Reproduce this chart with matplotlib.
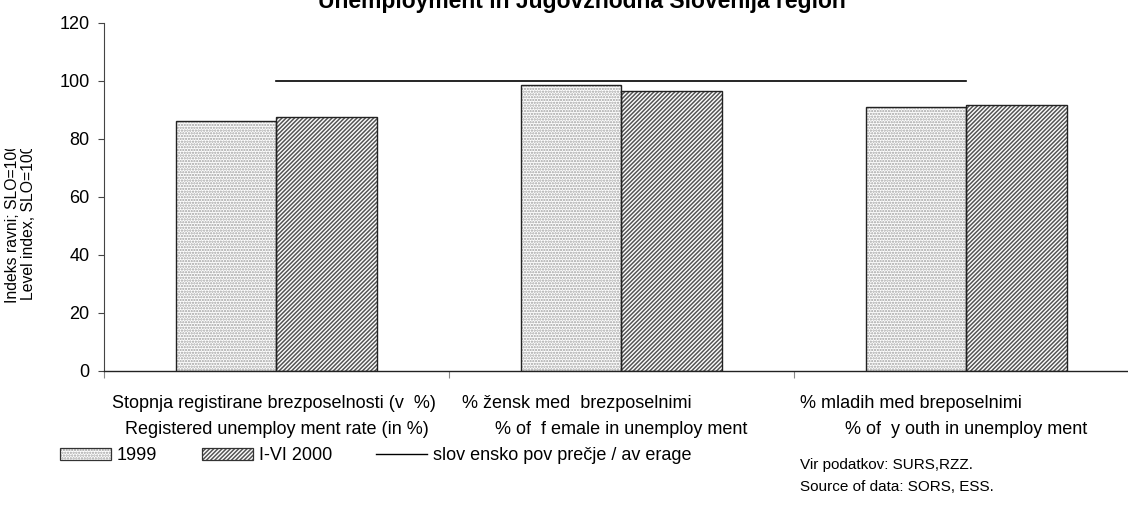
import matplotlib.pyplot as plt
import numpy as np
from matplotlib.patches import Patch
from matplotlib.lines import Line2D
from matplotlib.transforms import Bbox, TransformedBbox, blended_transform_factory

plt.rcParams['font.family'] = ['Liberation Sans', 'DejaVu Sans']
plt.rcParams['hatch.linewidth'] = 1.1

# data
categories_si = ['Stopnja registirane brezposelnosti (v  %)',
                 '% žensk med  brezposelnimi',
                 '% mladih med breposelnimi']
categories_en = ['Registered unemploy ment rate (in %)',
                 '% of  f emale in unemploy ment',
                 '% of  y outh in unemploy ment']
values_1999 = [86.2, 98.6, 90.8]
values_2000 = [87.4, 96.4, 91.6]
average = [100, 100, 100]
series_names = ['1999', 'I-VI 2000', 'slov ensko pov prečje / av erage']
yticks = [0, 20, 40, 60, 80, 100, 120]

fig = plt.figure(figsize=(11.28, 5.07), dpi=100)
ax = fig.add_axes([104 / 1128, 1 - 370.5 / 507, 1035 / 1128, 348 / 507])

x = np.arange(len(categories_si)) + 0.5
w = 0.29

dot_col = '#a0a0a0'
hatch_col = '#555555'
dot_hatch = '......'
line_hatch = '////////'
ax.bar(x - w / 2, values_1999, w, color='white', edgecolor=dot_col, hatch=dot_hatch, linewidth=0)
ax.bar(x + w / 2, values_2000, w, color='white', edgecolor=hatch_col, hatch=line_hatch, linewidth=0)
ax.bar(x - w / 2, values_1999, w, fill=False, edgecolor='#222222', linewidth=1.0)
ax.bar(x + w / 2, values_2000, w, fill=False, edgecolor='#222222', linewidth=1.0)
ax.plot(x, average, color='black', linewidth=1.2)

ax.set_xlim(0, 3)
ax.set_ylim(0, 120)
ax.set_yticks(yticks)
ax.set_xticks([0, 1, 2, 3])
ax.set_xticklabels([])
ax.tick_params(axis='y', labelsize=13, length=4.5, width=0.8, color='#444444', pad=6)
ax.tick_params(axis='x', length=5, width=0.8, color='#888888')
ax.spines['top'].set_visible(False)
ax.spines['right'].set_visible(False)
ax.spines['left'].set_color('#444444')
ax.spines['bottom'].set_color('#222222')
ax.spines['bottom'].set_linewidth(1.0)

# category labels, two lines each
tr = blended_transform_factory(ax.transData, fig.transFigure)
first_line_x = [0.023, 1.038, 2.017]
for i in range(len(categories_si)):
    ax.text(first_line_x[i], 1 - 404 / 507, categories_si[i], transform=tr,
            ha='left', va='center', fontsize=13, clip_on=False)
    ax.text(x[i], 1 - 429 / 507, categories_en[i], transform=tr,
            ha='center', va='center', fontsize=13, clip_on=False)

# title, cut by the top edge like in the reference
fig.text(582 / 1128, 1 - 8 / 507, 'Unemployment in Jugovzhodna Slovenija region',
         ha='center', va='baseline', fontsize=16.5, fontweight='bold')

# y label, clipped near the top
yl = fig.text(20.5 / 1128, 1 - 303 / 507, 'Indeks ravni; SLO=100\nLevel index, SLO=100',
              rotation=90, ha='center', va='bottom', multialignment='center',
              fontsize=11.3, linespacing=1.05)
yl.set_clip_box(TransformedBbox(Bbox.from_extents(0, 0, 0.1, 1 - 149 / 507), fig.transFigure))
yl.set_clip_on(True)

# legend
h1 = (Patch(facecolor='white', edgecolor=dot_col, hatch=dot_hatch, linewidth=0),
      Patch(fill=False, edgecolor='#333333', linewidth=0.9))
h2 = (Patch(facecolor='white', edgecolor=hatch_col, hatch=line_hatch, linewidth=0),
      Patch(fill=False, edgecolor='#333333', linewidth=0.9))
h3 = Line2D([], [], color='black', linewidth=1.0)
fig.legend([h1, h2, h3], series_names, loc='center left',
           bbox_to_anchor=(60 / 1128, 1 - 456 / 507), ncol=3, frameon=False,
           fontsize=13, handlelength=2.83, handleheight=0.6, handletextpad=0.33,
           columnspacing=2.45, borderaxespad=0, borderpad=0)

fig.text(800 / 1128, 1 - 465 / 507, 'Vir podatkov: SURS,RZZ.', ha='left', va='center', fontsize=11)
fig.text(800 / 1128, 1 - 487 / 507, 'Source of data: SORS, ESS.', ha='left', va='center', fontsize=11)

fig.savefig('out.png', dpi=100)
